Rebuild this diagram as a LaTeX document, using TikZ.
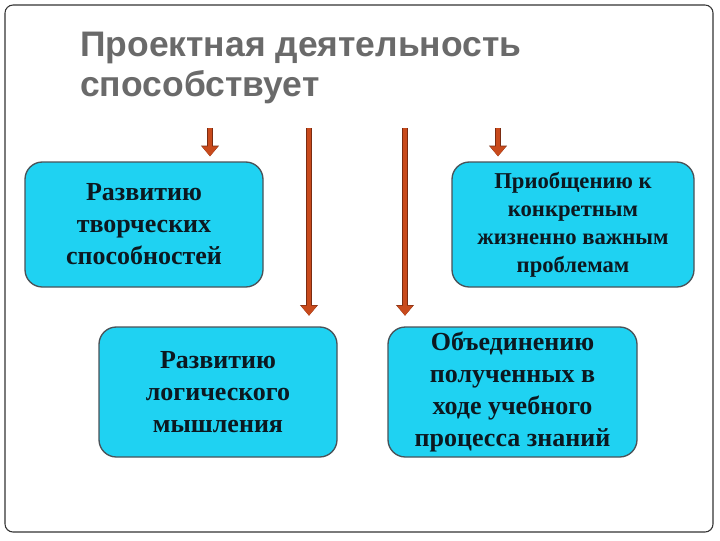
\documentclass[tikz,border=0pt]{standalone}
\usepackage{fontspec}
\setmainfont{Liberation Serif}
\newfontfamily\titlefont{Liberation Sans}
\usetikzlibrary{arrows.meta}

\definecolor{boxcyan}{HTML}{1FD2F2}
\definecolor{boxline}{HTML}{4A5258}
\definecolor{arrowred}{HTML}{C84A1C}
\definecolor{arrowdark}{HTML}{7A2C12}
\definecolor{titlegray}{HTML}{6A6A6A}
\definecolor{textdark}{HTML}{0C1820}

\tikzset{
  box/.style={draw=boxline, fill=boxcyan, line width=1pt, rounded corners=13pt,
    align=center, inner sep=0pt, text=textdark,
    font=\bfseries\fontsize{19.5}{24}\selectfont},
  titletext/.style={anchor=base west, text=titlegray, inner sep=0pt,
    font=\titlefont\bfseries\fontsize{26.6}{32}\selectfont},
  arr/.style={draw=arrowred, line width=3.4pt, -{Triangle[width=11.5pt,length=7.5pt]},
    preaction={draw=arrowdark, line width=4.3pt, -{Triangle[width=13pt,length=8pt]}}}
}

\begin{document}
\begin{tikzpicture}[x=0.75pt, y=-0.75pt]
  \useasboundingbox (0,0) rectangle (720,540);

  % frame
  \draw[black!80, line width=0.8pt, rounded corners=6pt] (5,5) rectangle (713,532);

  % title
  \node[titletext] (title1) at (80,56) {Проектная деятельность};
  \node[titletext] (title2) at (80,96) {способствует};

  % boxes
  \node[box, minimum width=178.5pt, minimum height=93.75pt] (b1) at (144,224.5)
    {Развитию\\творческих\\способностей};
  \node[box, minimum width=181.5pt, minimum height=93.75pt,
    font=\bfseries\fontsize{17}{21}\selectfont] (b2) at (573,224.5)
    {Приобщению к\\конкретным\\жизненно важным\\проблемам};
  \node[box, minimum width=178.5pt, minimum height=97.5pt] (b3) at (218,392)
    {Развитию\\логического\\мышления};
  \node[box, minimum width=186.75pt, minimum height=97.5pt] (b4) at (512.5,392)
    {Объединению\\полученных в\\ходе учебного\\процесса знаний};

  % arrows
  \coordinate (s1) at (210,128);
  \coordinate (s2) at (309,128);
  \coordinate (s3) at (405,128);
  \coordinate (s4) at (498,128);

  \draw[arr, shorten >=3.75pt] (s1) -- (s1 |- b1.north);
  \draw[arr, shorten >=8pt] (s2) -- (s2 |- b3.north);
  \draw[arr, shorten >=8pt] (s3) -- (s3 |- b4.north);
  \draw[arr, shorten >=3.75pt] (s4) -- (s4 |- b2.north);

\end{tikzpicture}
\end{document}
